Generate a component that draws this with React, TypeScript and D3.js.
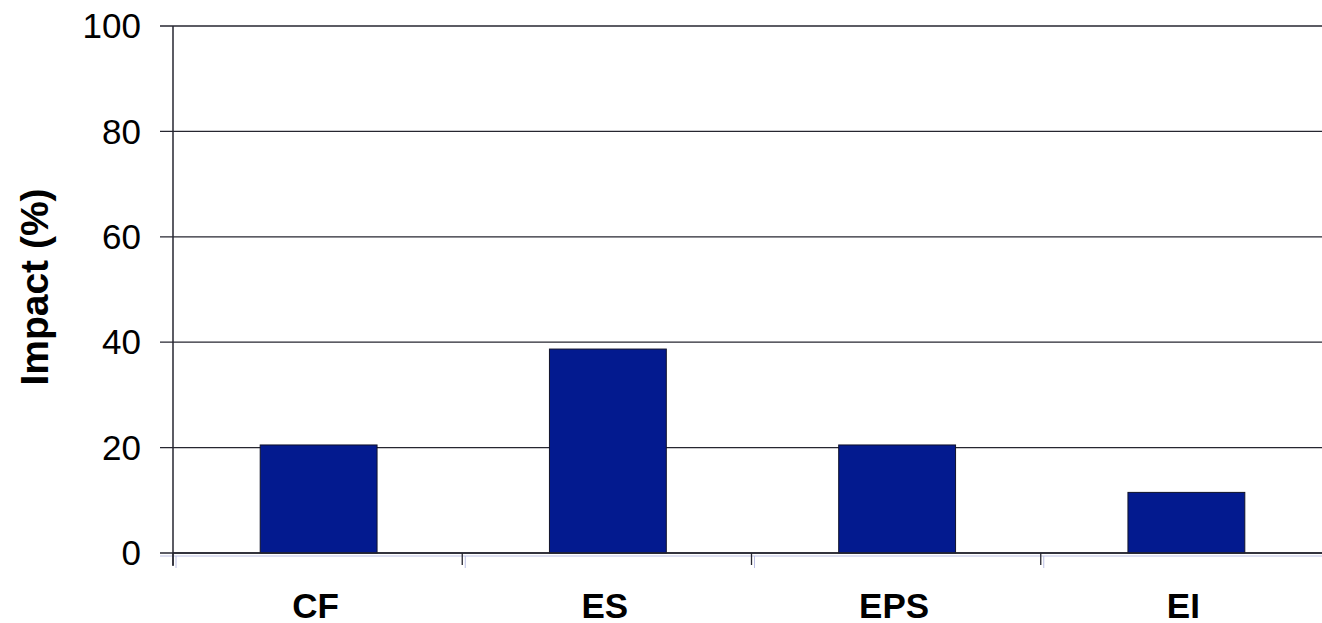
import React, { useEffect, useRef } from 'react';
import * as d3 from 'd3';

const categories = ['CF', 'ES', 'EPS', 'EI'];
const impactValues = [20.5, 38.7, 20.5, 11.5];
const yTicks = [0, 20, 40, 60, 80, 100];

const App = () => {
  const svgRef = useRef<SVGSVGElement>(null);

  useEffect(() => {
    const width = 1322;
    const height = 623;

    const svg = d3.select(svgRef.current);
    svg.selectAll('*').remove();
    svg.attr('width', width).attr('height', height);

    // plot area runs a bit past the right edge, like the original
    const left = 173;
    const right = 1330;
    const top = 26;
    const bottom = 553;

    const xScale = d3.scaleBand<string>()
      .domain(categories)
      .range([left, right])
      .padding(0);

    const yScale = d3.scaleLinear()
      .domain([0, 100])
      .range([bottom, top]);

    const font = "'Liberation Sans', Arial, sans-serif";

    // Gridlines with outward tick marks
    svg.append('g')
      .selectAll('line')
      .data(yTicks)
      .enter().append('line')
      .attr('x1', left - 13)
      .attr('x2', width)
      .attr('y1', d => yScale(d))
      .attr('y2', d => yScale(d))
      .style('stroke', '#262630')
      .style('stroke-width', 1.3);

    // faint shadow of the category axis
    svg.append('line')
      .attr('x1', left - 13)
      .attr('x2', width)
      .attr('y1', bottom + 3)
      .attr('y2', bottom + 3)
      .style('stroke', '#bcc0e4')
      .style('stroke-width', 1);

    const boundaries = categories.map(c => xScale(c) as number).concat([right]);

    svg.append('g')
      .selectAll('line')
      .data(boundaries)
      .enter().append('line')
      .attr('x1', d => d + 3)
      .attr('x2', d => d + 3)
      .attr('y1', bottom + 3)
      .attr('y2', bottom + 15)
      .style('stroke', '#bcc0e4')
      .style('stroke-width', 1);

    // category tick marks
    svg.append('g')
      .selectAll('line')
      .data(boundaries)
      .enter().append('line')
      .attr('x1', d => d)
      .attr('x2', d => d)
      .attr('y1', bottom)
      .attr('y2', bottom + 12)
      .style('stroke', '#262630')
      .style('stroke-width', 1.3);

    // Y axis line
    svg.append('line')
      .attr('x1', left)
      .attr('x2', left)
      .attr('y1', top)
      .attr('y2', bottom + 13)
      .style('stroke', '#262630')
      .style('stroke-width', 1.5);

    // Bars
    const barWidth = xScale.bandwidth() * 0.404;
    svg.append('g')
      .selectAll('rect')
      .data(impactValues)
      .enter().append('rect')
      .attr('x', (d, i) => (xScale(categories[i]) as number) + xScale.bandwidth() / 2 - barWidth / 2 + 1)
      .attr('y', d => yScale(d))
      .attr('width', barWidth)
      .attr('height', d => bottom - yScale(d))
      .style('fill', '#031a8f')
      .style('stroke', '#10122a')
      .style('stroke-width', 1);

    // zero line drawn over the bars
    svg.append('line')
      .attr('x1', left)
      .attr('x2', width)
      .attr('y1', bottom)
      .attr('y2', bottom)
      .style('stroke', '#262630')
      .style('stroke-width', 1.5);

    // Y tick labels
    svg.append('g')
      .selectAll('text')
      .data(yTicks)
      .enter().append('text')
      .attr('x', 141)
      .attr('y', d => yScale(d))
      .attr('dy', '0.35em')
      .attr('text-anchor', 'end')
      .style('font-family', font)
      .style('font-size', '35px')
      .style('fill', '#000')
      .text(d => d);

    // Category labels
    svg.append('g')
      .selectAll('text')
      .data(categories)
      .enter().append('text')
      .attr('x', d => (xScale(d) as number) + xScale.bandwidth() / 2 - 2)
      .attr('y', 618)
      .attr('text-anchor', 'middle')
      .style('font-family', font)
      .style('font-size', '35px')
      .style('font-weight', 'bold')
      .style('fill', '#000')
      .text(d => d);

    // Y axis title
    svg.append('text')
      .attr('transform', 'translate(48, 287) rotate(-90)')
      .attr('text-anchor', 'middle')
      .style('font-family', font)
      .style('font-size', '39px')
      .style('font-weight', 'bold')
      .style('fill', '#000')
      .text('Impact (%)');
  }, []);

  return (
    <div style={{ position: 'absolute', left: 0, top: 0, background: 'white' }}>
      <svg ref={svgRef} style={{ display: 'block' }}></svg>
    </div>
  );
};

export default App;
